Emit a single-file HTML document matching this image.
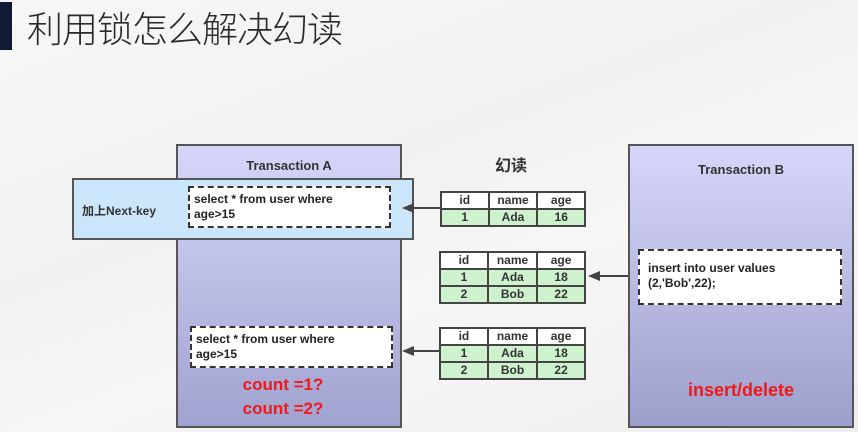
<!DOCTYPE html>
<html><head><meta charset="utf-8"><style>
body{margin:0;width:858px;height:432px;overflow:hidden;background:linear-gradient(160deg,#f7f7f7 0%,#f1f1f1 40%,#f6f6f6 60%,#eeeeee 100%);position:relative;font-family:"Liberation Sans","Noto Sans CJK SC",sans-serif;}
.a{position:absolute;box-sizing:border-box}
.tx{font-weight:bold;color:#333;font-size:13px}
.dash{border:2px dashed #333;background:#fff;font-size:12px;font-weight:bold;color:#222;line-height:15px;padding:4px 4px}
table{position:absolute;border-collapse:collapse;font-size:12px;font-weight:bold;color:#333}
td{border:2px solid #444;text-align:center;height:15px;padding:0;line-height:15px}
tr.h td{background:#fff}
tr.g td{background:#cdf2cd}
.red{color:#f01818;font-weight:bold;font-size:17px}
</style></head><body>
<div class="a" style="left:0;top:2px;width:12px;height:48px;background:#111a33"></div>
<div class="a" style="left:27px;top:3px;font-family:'Noto Sans CJK SC',sans-serif;font-size:36px;letter-spacing:-1px;color:#2a2a2a;line-height:48px;font-weight:300;white-space:nowrap">利用锁怎么解决幻读</div>

<div class="a" style="left:176px;top:144px;width:226px;height:284px;border:2px solid #555;background:linear-gradient(#d6d6fa,#a0a3cf)"></div>
<div class="a tx" style="left:176px;top:158px;width:226px;text-align:center">Transaction A</div>
<div class="a" style="left:72px;top:178px;width:342px;height:62px;border:2px solid #555;background:#cbe5fb"></div>
<div class="a tx" style="left:82px;top:202px;font-size:12px">加上Next-key</div>
<div class="a dash" style="left:188px;top:186px;width:203px;height:42px">select * from user where<br>age&gt;15</div>

<div class="a dash" style="left:190px;top:326px;width:203px;height:42px">select * from user where<br>age&gt;15</div>
<div class="a red" style="left:176px;top:373px;width:214px;text-align:center;line-height:24px">count =1?<br>count =2?</div>

<div class="a tx" style="left:495px;top:152px;font-size:16px">幻读</div>

<div class="a" style="left:628px;top:144px;width:226px;height:284px;border:2px solid #555;background:linear-gradient(#d6d6fa,#9c9fcb)"></div>
<div class="a tx" style="left:628px;top:162px;width:226px;text-align:center;font-size:13px">Transaction B</div>
<div class="a dash" style="left:638px;top:249px;width:204px;height:56px;padding:10px 8px">insert into user values<br>(2,'Bob',22);</div>
<div class="a red" style="left:628px;top:380px;width:226px;text-align:center;font-size:18px">insert/delete</div>

<table style="left:440px;top:191px;width:146px"><tr class="h"><td style="width:33%">id</td><td style="width:34%">name</td><td>age</td></tr><tr class="g"><td>1</td><td>Ada</td><td>16</td></tr></table>
<table style="left:439px;top:251px;width:147px"><tr class="h"><td style="width:33%">id</td><td style="width:34%">name</td><td>age</td></tr><tr class="g"><td>1</td><td>Ada</td><td>18</td></tr><tr class="g"><td>2</td><td>Bob</td><td>22</td></tr></table>
<table style="left:439px;top:327px;width:147px"><tr class="h"><td style="width:33%">id</td><td style="width:34%">name</td><td>age</td></tr><tr class="g"><td>1</td><td>Ada</td><td>18</td></tr><tr class="g"><td>2</td><td>Bob</td><td>22</td></tr></table>

<svg class="a" style="left:0;top:0" width="858" height="432">
<g stroke="#444" stroke-width="2" fill="#444">
<line x1="441" y1="208" x2="410" y2="208"/><polygon points="402,208 414,203 414,213" stroke="none"/>
<line x1="628" y1="276" x2="596" y2="276"/><polygon points="588,276 600,271 600,281" stroke="none"/>
<line x1="439" y1="351" x2="410" y2="351"/><polygon points="402,351 414,346 414,356" stroke="none"/>
</g></svg>
</body></html>
